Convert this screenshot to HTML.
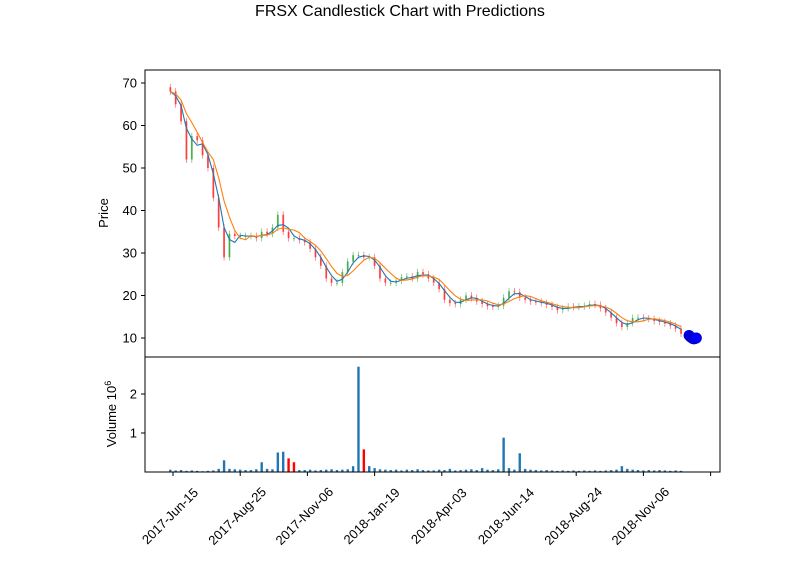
<!DOCTYPE html>
<html><head><meta charset="utf-8"><style>
body{margin:0;background:#fff;}
svg text{font-family:"Liberation Sans",sans-serif;fill:#000;}
</style></head><body>
<svg id="chart" width="800" height="575" xmlns="http://www.w3.org/2000/svg">
<rect width="800" height="575" fill="#fff"/>
<text x="400" y="16" font-size="16" text-anchor="middle">FRSX Candlestick Chart with Predictions</text>
<g id="price"></g>
<g id="vol"></g>
<rect x="145" y="70" width="575" height="287" fill="none" stroke="#000" stroke-width="1"/>
<rect x="145" y="357" width="575" height="115" fill="none" stroke="#000" stroke-width="1"/>
<text x="108" y="213" font-size="13" text-anchor="middle" transform="rotate(-90 108 213)">Price</text>
<text x="116" y="414" font-size="13" text-anchor="middle" transform="rotate(-90 116 414)">Volume  10<tspan dy="-5" font-size="9">6</tspan></text>
</svg>
<script>
const closes=[68,65,61,52,57.5,56.5,53,50,43,36,29,34.5,34,34,34,34,33.5,35,34.5,36,39,35,33.5,33.5,33,32.5,31,29,27,24,23,23,25.5,28,29.5,29.5,29,29,27,24,23,23,23.5,24.3,24.5,24,25.5,25,24,23,21.5,19,18.2,18,19,20,19.4,18.6,18,17.5,17.4,17.6,19.5,21,20.8,19.5,19,18.6,18.5,18.2,17.8,17.3,16.6,17,17.4,17.3,17.4,17.6,18,17.8,17,16,14.8,13.5,12.6,13.5,14.7,14.8,14.6,14.5,14,13.8,13.4,12.9,12.2,11];
const volumes=[0.06,0.04,0.05,0.03,0.04,0.03,0.02,0.03,0.04,0.08,0.3,0.08,0.07,0.06,0.05,0.05,0.07,0.25,0.08,0.07,0.5,0.52,0.35,0.25,0.05,0.05,0.06,0.04,0.05,0.06,0.07,0.05,0.06,0.07,0.15,2.7,0.58,0.15,0.1,0.07,0.06,0.05,0.06,0.04,0.06,0.05,0.07,0.05,0.04,0.04,0.06,0.05,0.08,0.04,0.05,0.06,0.07,0.05,0.1,0.06,0.05,0.07,0.88,0.1,0.06,0.48,0.08,0.06,0.05,0.04,0.05,0.04,0.03,0.04,0.03,0.04,0.03,0.04,0.03,0.04,0.03,0.04,0.05,0.06,0.15,0.08,0.06,0.05,0.04,0.05,0.04,0.05,0.04,0.03,0.04,0.03];
const volRed=[22,23,36];
const preds=[10.6,10.3,10.1,9.9,9.8,9.9,10.0];
const priceTicks=[10,20,30,40,50,60,70];
const volTicks=[1,2];
const xTickLabels=["2017-Jun-15","2017-Aug-25","2017-Nov-06","2018-Jan-19","2018-Apr-03","2018-Jun-14","2018-Aug-24","2018-Nov-06",""];
const NS="http://www.w3.org/2000/svg";
const X0=173, PX_PER_DAY=1.344, STEP=4, START=-2;
const xDay=d=>X0+d*PX_PER_DAY;
const xK=k=>xDay(START+k*STEP);
const yP=p=>338-(p-10)*4.25;
const yV=v=>472-v*39;
const svg=document.getElementById('chart');
const gp=document.getElementById('price'), gv=document.getElementById('vol');
function mk(tag,attrs,parent){const e=document.createElementNS(NS,tag);for(const k in attrs)e.setAttribute(k,attrs[k]);parent.appendChild(e);return e;}
closes.forEach((c,k)=>{
  const o=k?closes[k-1]:c+1;const up=c>=o;const col=up?'#2ca02c':'#ff2020';
  const hi=Math.max(o,c)+0.8, lo=Math.min(o,c)-0.8;
  const x=xK(k);
  const w=mk('line',{x1:x,x2:x,y1:yP(hi),y2:yP(lo),stroke:col,'stroke-width':0.7,opacity:0.7},gp);
  
  
  const b=mk('rect',{x:x-0.9,y:yP(Math.max(o,c)),width:1.8,height:Math.max(1,Math.abs(yP(o)-yP(c))),fill:col,opacity:0.75},gp);
  
  
});
function ma(n){return closes.map((_,k)=>{let s=0,c=0;for(let j=k-n+1;j<=k;j++){const jj=Math.max(0,j);s+=closes[jj];c++;}return s/c;});}
const ma1=ma(3), ma2=ma(5);
[[ma1,'#1f77b4','moving-average-short'],[ma2,'#ff7f0e','moving-average-long']].forEach(([arr,col,nm])=>{
  const d=arr.map((v,k)=>(k?'L':'M')+xK(k).toFixed(1)+','+yP(v).toFixed(1)).join(' ');
  const p=mk('path',{d:d,fill:'none',stroke:col,'stroke-width':1.1},gp);
  
  
});
preds.forEach((v,i)=>{
  const c=mk('circle',{cx:xDay(START+closes.length*STEP+2+i*0.9),cy:yP(v),r:5,fill:'#0000ff',stroke:'#0000cc'},gp);
  
  
});
volumes.forEach((v,k)=>{
  const r=mk('rect',{x:xK(k)-1.2,y:yV(v),width:2.4,height:472-yV(v),fill:volRed.includes(k)?'#ff0000':'#1f77b4'},gv);
  
  
});
priceTicks.forEach(t=>{
  const y=yP(t);
  mk('line',{x1:141,x2:145,y1:y,y2:y,stroke:'#000'},svg);
  const tx=mk('text',{x:137,y:y+4.5,'font-size':13,'text-anchor':'end'},svg);tx.textContent=t;
  
  
});
volTicks.forEach(t=>{
  const y=yV(t);
  mk('line',{x1:141,x2:145,y1:y,y2:y,stroke:'#000'},svg);
  const tx=mk('text',{x:137,y:y+4.5,'font-size':13,'text-anchor':'end'},svg);tx.textContent=t;
  
  
});
xTickLabels.forEach((l,i)=>{
  const x=xDay(i*50);
  mk('line',{x1:x,x2:x,y1:472,y2:476,stroke:'#000'},svg);
  if(l){const cx=x-3, cy=516;
  const tx=mk('text',{x:cx,y:cy+4.5,'font-size':13,'text-anchor':'middle',transform:`rotate(-45 ${cx} ${cy})`},svg);tx.textContent=l;
  
  }
});
</script>
</body></html>
